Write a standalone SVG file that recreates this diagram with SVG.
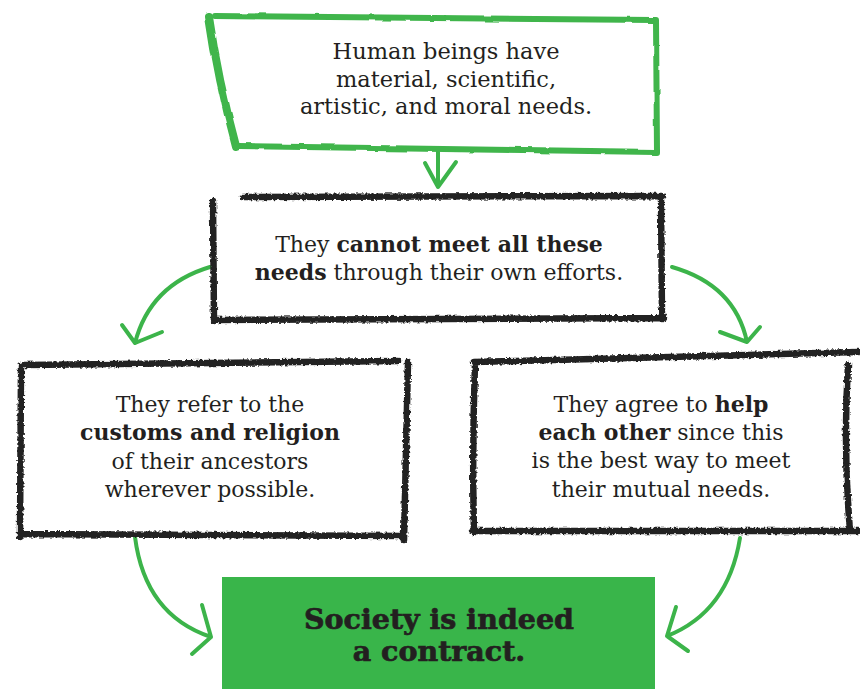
<svg xmlns="http://www.w3.org/2000/svg" width="860" height="689" viewBox="0 0 860 689">
<style>
.t{font-family:"DejaVu Serif","Liberation Serif",serif;fill:#231f20;text-anchor:middle}
.b{font-weight:bold}
.g{fill:none;stroke:#3fb54b;stroke-linecap:round;stroke-linejoin:round}
.k{fill:none;stroke:#222;stroke-width:6.5;stroke-linecap:round;stroke-linejoin:round}
.a{fill:none;stroke:#3cb44a;stroke-width:4;stroke-linecap:round;stroke-linejoin:round}
</style>
<defs>
<filter id="rough" x="-5%" y="-5%" width="110%" height="110%">
<feTurbulence type="fractalNoise" baseFrequency="0.35" numOctaves="2" seed="4" result="n"/>
<feDisplacementMap in="SourceGraphic" in2="n" scale="4" xChannelSelector="R" yChannelSelector="G"/>
</filter>
<filter id="soft" x="-5%" y="-5%" width="110%" height="110%">
<feTurbulence type="fractalNoise" baseFrequency="0.05" numOctaves="2" seed="2" result="n"/>
<feDisplacementMap in="SourceGraphic" in2="n" scale="3" xChannelSelector="R" yChannelSelector="G"/>
</filter>
</defs>
<rect width="860" height="689" fill="#fff"/>
<g id="connectors">
<path class="a" d="M438,150 L438,187 M425,163 L438,187 L456,162"/>
<path class="a" d="M210,267 Q150,285 135,343 M122,325 L135,343 L162,332"/>
<path class="a" d="M672,267 Q735,285 747,342 M720,332 L747,342 L760,327"/>
<path class="a" d="M135,537 Q145,615 211,637 M202,605 L211,637 L192,654"/>
<path class="a" d="M740,538 Q728,612 667,636 M676,607 L667,636 L688,651"/>
</g>
<g id="node-needs">
<g filter="url(#soft)">
<path class="g" stroke-width="6" d="M215,16 L655,20 M656,20 L657,152 M656,152 L238,146"/>
<path class="g" stroke-width="8" d="M209,17 Q218,80 236,146"/>
</g>
<text class="t" font-size="22.5"><tspan x="446" y="59">Human beings have</tspan><tspan x="446" y="87">material, scientific,</tspan><tspan x="446" y="114">artistic, and moral needs.</tspan></text>
</g>
<g id="node-cannot">
<path class="k" filter="url(#rough)" d="M243,197 L663,196 M661,197 L662,319 M664,318 L214,320 M214,321 L213,201"/>
<text class="t" font-size="22"><tspan x="439" y="252">They <tspan class="b">cannot meet all these</tspan></tspan><tspan x="439" y="280"><tspan class="b">needs</tspan> through their own efforts.</tspan></text>
</g>
<g id="node-customs">
<path class="k" filter="url(#rough)" d="M24,365 L398,361 M408,362 L404,540 M404,536 L21,534 M20,537 L21,366"/>
<text class="t" font-size="22"><tspan x="210" y="412">They refer to the</tspan><tspan x="210" y="440" class="b">customs and religion</tspan><tspan x="210" y="469">of their ancestors</tspan><tspan x="210" y="497">wherever possible.</tspan></text>
</g>
<g id="node-help">
<path class="k" filter="url(#rough)" d="M474,362 L858,352 M848,365 Q843,450 850,530 M858,531 L472,531 M474,532 Q472,450 475,363"/>
<text class="t" font-size="22"><tspan x="661" y="412">They agree to <tspan class="b">help</tspan></tspan><tspan x="661" y="440"><tspan class="b">each other</tspan> since this</tspan><tspan x="661" y="468">is the best way to meet</tspan><tspan x="661" y="497">their mutual needs.</tspan></text>
</g>
<g id="node-contract">
<rect x="222" y="577" width="433" height="112" fill="#39b54a"/>
<text class="t b" font-size="28.5" stroke="#231f20" stroke-width="0.7"><tspan x="439" y="629">Society is indeed</tspan><tspan x="439" y="661">a contract.</tspan></text>
</g>
</svg>
